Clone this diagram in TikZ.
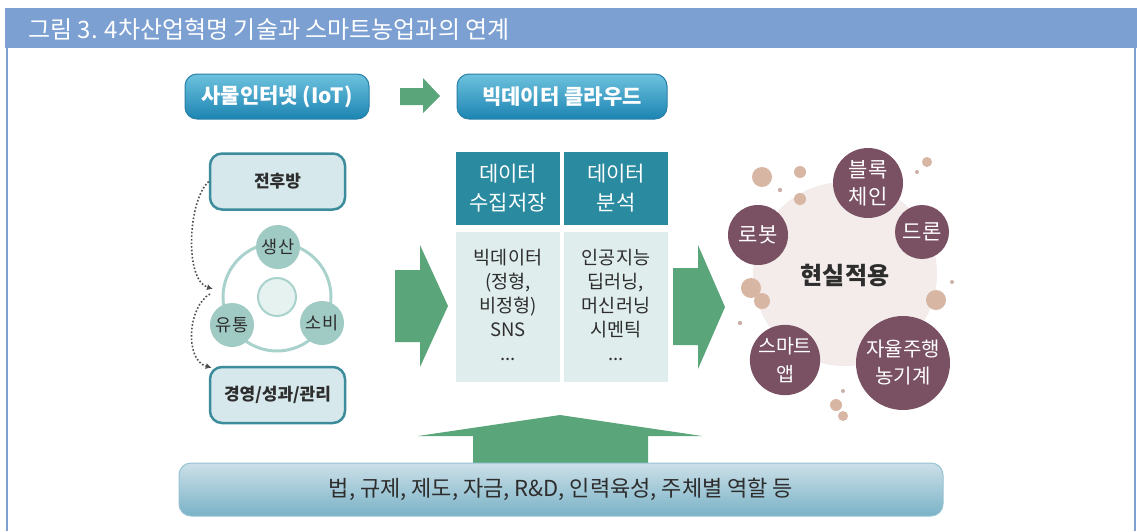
\documentclass[tikz,border=0pt]{standalone}
\usepackage{fontspec}
\setmainfont{Noto Sans CJK KR}
\usetikzlibrary{arrows.meta}
\newcommand\fsz[2]{\fontsize{#1}{#2}\selectfont}
\definecolor{hdr}{RGB}{124,160,210}
\definecolor{btnTop}{RGB}{110,194,222}
\definecolor{btnBot}{RGB}{28,132,178}
\definecolor{btnDraw}{RGB}{40,128,168}
\definecolor{grn}{RGB}{90,166,122}
\definecolor{boxfill}{RGB}{214,232,236}
\definecolor{boxdraw}{RGB}{60,140,156}
\definecolor{ringc}{RGB}{170,210,205}
\definecolor{ringnode}{RGB}{160,202,196}
\definecolor{innerc}{RGB}{229,242,240}
\definecolor{colhead}{RGB}{42,138,160}
\definecolor{colbody}{RGB}{224,237,237}
\definecolor{purp}{RGB}{122,80,99}
\definecolor{pale}{RGB}{243,236,234}
\definecolor{tan}{RGB}{216,182,164}
\definecolor{tandot}{RGB}{205,175,170}
\definecolor{barTop}{RGB}{204,224,232}
\definecolor{barBot}{RGB}{122,178,199}
\definecolor{barDraw}{RGB}{150,195,210}
\definecolor{darktext}{RGB}{45,45,45}
\definecolor{dotc}{RGB}{80,80,80}
\begin{document}
\begin{tikzpicture}[x=1pt,y=-1pt,
  btn/.style={rounded corners=12pt, top color=btnTop, bottom color=btnBot, draw=btnDraw, line width=1pt,
    text=white, font=\fsz{21}{25}\bfseries, minimum height=45pt, inner sep=0pt},
  sidebox/.style={rounded corners=12pt, fill=boxfill, draw=boxdraw, line width=2.5pt,
    minimum width=135pt, minimum height=56pt, inner sep=0pt, font=\fsz{17}{20}\bfseries, text=darktext},
  cyc/.style={circle, fill=ringnode, minimum size=44pt, inner sep=0pt, font=\fsz{17.5}{20}, text=darktext},
  colhd/.style={fill=colhead, minimum width=104pt, minimum height=73pt, inner sep=0pt, text=white,
    align=center, font=\fsz{21}{29}},
  colbd/.style={fill=colbody, minimum width=104pt, minimum height=150pt, inner sep=0pt},
  coltxt/.style={align=center, inner sep=0pt, text=darktext, font=\fsz{18.5}{24}},
  pnode/.style={circle, fill=purp, text=white, inner sep=0pt, align=center, font=\fsz{21}{27}},
  dotarrow/.style={dotted, line width=1.6pt, dotc, -{Latex[length=6pt,width=6pt]}},
  bigarrow/.style={fill=grn},
  bar/.style={rounded corners=12pt, top color=barTop, bottom color=barBot, draw=barDraw, line width=1pt,
    minimum width=764pt, minimum height=53pt, inner sep=0pt, text=darktext, font=\fsz{22}{26}}
]
\useasboundingbox (0,0) rectangle (1137,531);
\fill[white] (0,0) rectangle (1137,531);
% header and frame
\fill[hdr] (5,8) rectangle (1137,48);
\draw[hdr, line width=2.5pt] (7,47) -- (7,531);
\draw[hdr, line width=2.5pt] (1135,47) -- (1135,531);
\node[anchor=west, text=white, font=\fsz{24}{28}, inner sep=0pt] (title) at (28,29) {그림 3. 4차산업혁명 기술과 스마트농업과의 연계};

% top buttons
\node[btn, minimum width=184pt] (iot) at (277,96.5) {사물인터넷 (IoT)};
\node[btn, minimum width=210pt] (cloud) at (562,96.5) {빅데이터 클라우드};
\fill[bigarrow] (400,88) -- (423,88) -- (423,78) -- (440,96) -- (423,113) -- (423,105) -- (400,105) -- cycle;

% left column
\node[sidebox] (jhb) at (277.5,181.5) {전후방};
\node[sidebox] (gyg) at (277.5,395) {경영/성과/관리};
\draw[ringc, line width=3pt] (277,297) circle (54pt);
\node[circle, fill=innerc, draw=ringc, line width=2pt, minimum size=38pt] (core) at (277,297) {};
\node[cyc] (prod) at (278,247) {생산};
\node[cyc] (dist) at (232,325) {유통};
\node[cyc] (cons) at (322,323) {소비};
\coordinate (mid) at (213,289);
\coordinate (mid2) at (210,294);
\draw[dotarrow] (jhb.west) .. controls (188,200) and (184,280) .. (mid);
\draw[dotarrow] (mid2) .. controls (188,306) and (184,360) .. ([xshift=3pt,yshift=-2pt]gyg.north west);

% big arrows
\fill[bigarrow] (395,270) -- (420,270) -- (420,245) -- (448,306) -- (420,367) -- (420,342) -- (395,342) -- cycle;
\fill[bigarrow] (673,268) -- (698,268) -- (698,245) -- (725,307) -- (698,369) -- (698,345) -- (673,345) -- cycle;

% middle columns
\node[colhd] (h1) at (508,188.5) {데이터\\수집저장};
\node[colhd] (h2) at (616,188.5) {데이터\\분석};
\node[colbd] (b1) at (508,307) {};
\node[colbd] (b2) at (616,307) {};
\node[coltxt] (t1) at (508,305) {빅데이터\\(정형,\\비정형)\\SNS\\...};
\node[coltxt] (t2) at (616,305) {인공지능\\딥러닝,\\머신러닝\\시멘틱\\...};

% right cluster
\node[circle, fill=pale, minimum size=184pt, inner sep=0pt] (real) at (845,274) {};
\fill[tan] (762,177) circle (10pt);
\fill[tan] (800,172) circle (6pt);
\fill[tan] (800,199) circle (6pt);
\fill[tandot] (780,190) circle (2.2pt);
\fill[tan] (927,162) circle (5pt);
\fill[tandot] (917,172) circle (2pt);
\fill[tan] (751,288) circle (10pt);
\fill[tan] (762,301) circle (8pt);
\fill[tan] (936,300) circle (10pt);
\fill[tandot] (952,282) circle (2pt);
\fill[tandot] (740,323) circle (2.2pt);
\fill[tan] (836,405) circle (6pt);
\fill[tan] (843,416) circle (5pt);
\fill[tandot] (843,391) circle (2pt);
\node[font=\fsz{24}{28}\bfseries, text=darktext, inner sep=0pt] (rlabel) at (845,275) {현실적용};
\node[pnode, minimum size=70pt] (block) at (868,183) {블록\\체인};
\node[pnode, minimum size=54pt] (drone) at (922,232) {드론};
\node[pnode, minimum size=60pt] (robot) at (758,235) {로봇};
\node[pnode, minimum size=64pt, font=\fsz{19.5}{28}] (app) at (785,360) {스마트\\앱};
\node[pnode, minimum size=94pt, font=\fsz{20}{27}] (tractor) at (903,363) {자율주행\\농기계};

% bottom
\fill[bigarrow] (473,463) -- (473,436) -- (418,436) -- (560,415) -- (702,436) -- (648,436) -- (648,463) -- cycle;
\node[bar] (law) at (561,489.5) {법, 규제, 제도, 자금, R\&D, 인력육성, 주체별 역할 등};
\end{tikzpicture}
\end{document}
